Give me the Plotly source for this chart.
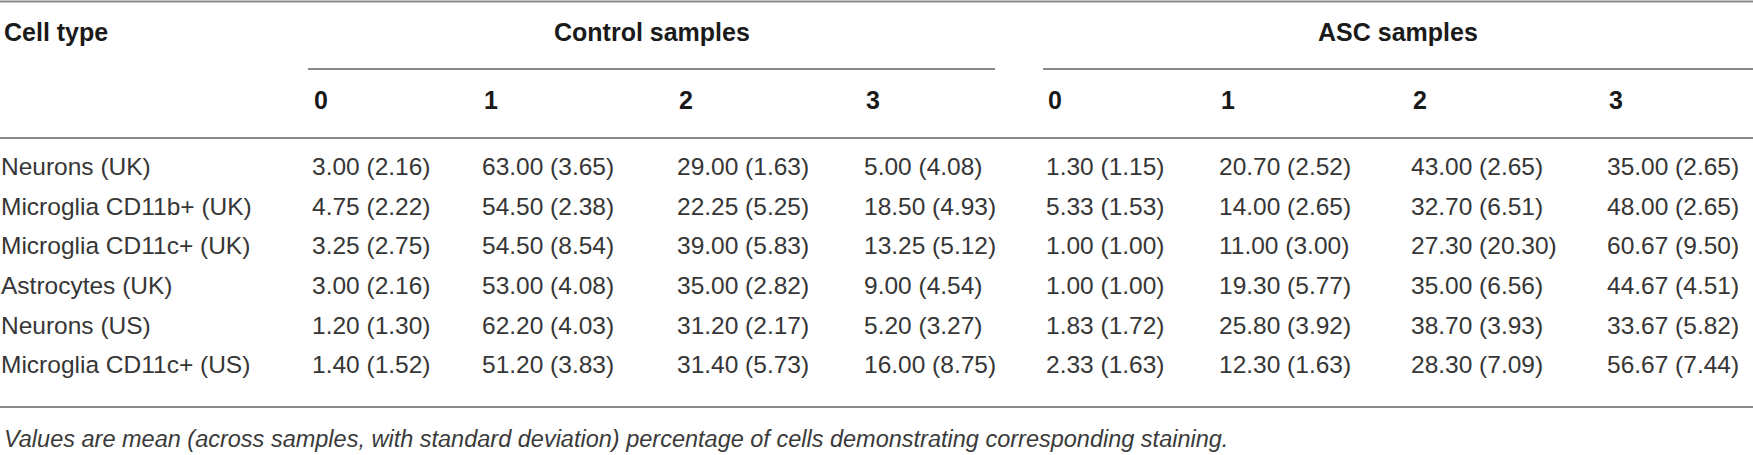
import plotly.graph_objects as go

# table values: mean (sd) percentage of cells per staining score
cell_types = ["Neurons (UK)", "Microglia CD11b+ (UK)", "Microglia CD11c+ (UK)",
              "Astrocytes (UK)", "Neurons (US)", "Microglia CD11c+ (US)"]
scores = ["0", "1", "2", "3"]
groups = ["Control samples", "ASC samples"]

control_mean = [[3.00, 63.00, 29.00, 5.00],
                [4.75, 54.50, 22.25, 18.50],
                [3.25, 54.50, 39.00, 13.25],
                [3.00, 53.00, 35.00, 9.00],
                [1.20, 62.20, 31.20, 5.20],
                [1.40, 51.20, 31.40, 16.00]]
control_sd = [[2.16, 3.65, 1.63, 4.08],
              [2.22, 2.38, 5.25, 4.93],
              [2.75, 8.54, 5.83, 5.12],
              [2.16, 4.08, 2.82, 4.54],
              [1.30, 4.03, 2.17, 3.27],
              [1.52, 3.83, 5.73, 8.75]]
asc_mean = [[1.30, 20.70, 43.00, 35.00],
            [5.33, 14.00, 32.70, 48.00],
            [1.00, 11.00, 27.30, 60.67],
            [1.00, 19.30, 35.00, 44.67],
            [1.83, 25.80, 38.70, 33.67],
            [2.33, 12.30, 28.30, 56.67]]
asc_sd = [[1.15, 2.52, 2.65, 2.65],
          [1.53, 2.65, 6.51, 2.65],
          [1.00, 3.00, 20.30, 9.50],
          [1.00, 5.77, 6.56, 4.51],
          [1.72, 3.92, 3.93, 5.82],
          [1.63, 1.63, 7.09, 7.44]]

caption = ("Values are mean (across samples, with standard deviation) percentage "
           "of cells demonstrating corresponding staining.")

# layout (pixels horizontally, row units vertically)
W, H = 1753, 455
row0_px, row_px = 169, 39.6
def yrow(px):
    return (px - row0_px) / row_px

col_x = [312, 482, 677, 864, 1046, 1219, 1411, 1607]
group_span = [(308, 995), (1043, W)]
FONT = "Liberation Sans"
TXT = "#363636"
LINE = "#8a8a8a"

fig = go.Figure()

# cell type column
fig.add_trace(go.Scatter(x=[1] * len(cell_types), y=list(range(len(cell_types))),
                         text=cell_types, mode="text", textposition="middle right",
                         textfont=dict(family=FONT, size=24.5, color=TXT), hoverinfo="skip"))

# value columns
for g, (means, sds) in enumerate([(control_mean, control_sd), (asc_mean, asc_sd)]):
    for j in range(len(scores)):
        labels = ["%.2f (%.2f)" % (means[i][j], sds[i][j]) for i in range(len(cell_types))]
        fig.add_trace(go.Scatter(x=[col_x[g * 4 + j]] * len(labels), y=list(range(len(labels))),
                                 text=labels, mode="text", textposition="middle right",
                                 textfont=dict(family=FONT, size=24.5, color=TXT), hoverinfo="skip"))

# header annotations
ann = [dict(x=2, y=yrow(32), text="<b>Cell type</b>", xanchor="left")]
for g, (x0, x1) in enumerate(group_span):
    ann.append(dict(x=(x0 + x1) / 2, y=yrow(32), text="<b>%s</b>" % groups[g], xanchor="center"))
    for j, s in enumerate(scores):
        ann.append(dict(x=col_x[g * 4 + j], y=yrow(100), text="<b>%s</b>" % s, xanchor="left"))
for a in ann:
    a.update(xref="x", yref="y", showarrow=False, yanchor="middle",
             font=dict(family=FONT, size=25, color="#1a1a1a"))
ann.append(dict(x=2, y=yrow(439), xref="x", yref="y", text="<i>%s</i>" % caption,
                xanchor="left", yanchor="middle", showarrow=False,
                font=dict(family=FONT, size=23.5, color="#3a3a3a")))

shapes = [dict(type="line", x0=0, x1=W, y0=yrow(1.5), y1=yrow(1.5)),
          dict(type="line", x0=0, x1=W, y0=yrow(138), y1=yrow(138)),
          dict(type="line", x0=0, x1=W, y0=yrow(407), y1=yrow(407))]
for x0, x1 in group_span:
    shapes.append(dict(type="line", x0=x0, x1=x1, y0=yrow(69), y1=yrow(69)))
for s in shapes:
    s.update(xref="x", yref="y", line=dict(color=LINE, width=2))

fig.update_layout(width=W, height=H, margin=dict(l=0, r=0, t=0, b=0),
                  paper_bgcolor="white", plot_bgcolor="white", showlegend=False,
                  annotations=ann, shapes=shapes,
                  xaxis=dict(range=[0, W], visible=False, fixedrange=True),
                  yaxis=dict(range=[yrow(H), yrow(0)], visible=False, fixedrange=True))

fig.write_html("out.html", config={"displayModeBar": False},
               post_script="document.body.style.margin='0px';")
